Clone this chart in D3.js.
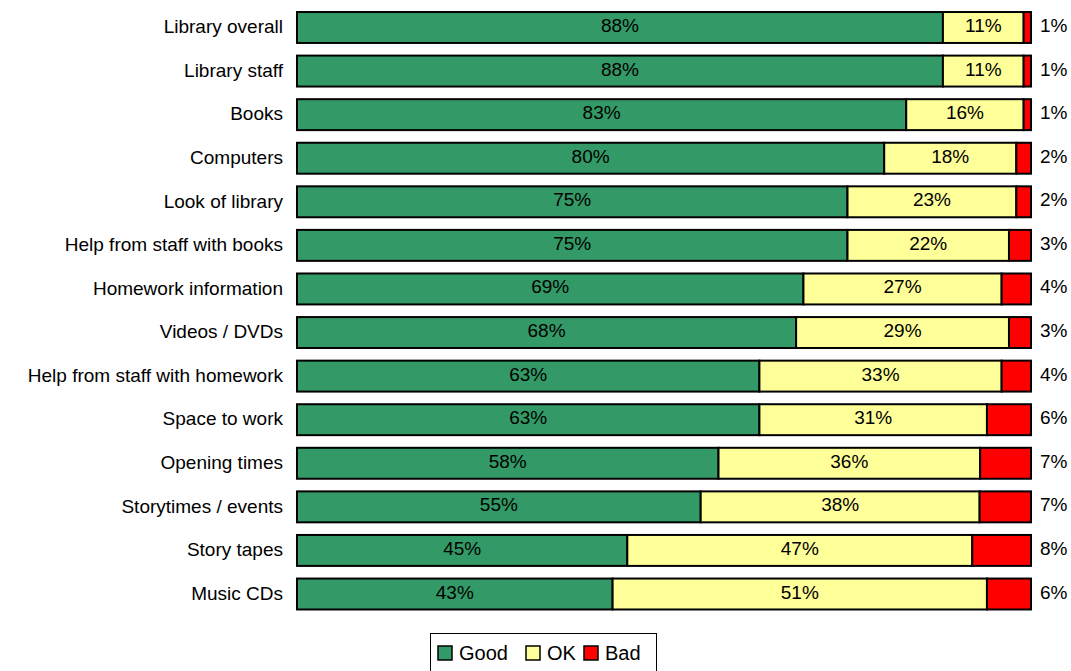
<!DOCTYPE html>
<html>
<head>
<meta charset="utf-8">
<script src="https://cdn.jsdelivr.net/npm/d3@7"></script>
<style>
  html, body { margin: 0; padding: 0; background: #fff; }
  svg { display: block; font-family: "Liberation Sans", Arial, sans-serif; }
</style>
</head>
<body>
<svg id="chart" width="1071" height="671"></svg>
<script>
// Survey responses: share of Good / OK / Bad ratings per library service
const categories = [
  "Library overall", "Library staff", "Books", "Computers", "Look of library",
  "Help from staff with books", "Homework information", "Videos / DVDs",
  "Help from staff with homework", "Space to work", "Opening times",
  "Storytimes / events", "Story tapes", "Music CDs"
];
const good = [88, 88, 83, 80, 75, 75, 69, 68, 63, 63, 58, 55, 45, 43];
const ok   = [11, 11, 16, 18, 23, 22, 27, 29, 33, 31, 36, 38, 47, 51];
const bad  = [ 1,  1,  1,  2,  2,  3,  4,  3,  4,  6,  7,  7,  8,  6];
const seriesNames = ["Good", "OK", "Bad"];
const colors = ["#339966", "#FFFF99", "#FF0000"];

const rows = categories.map((c, i) => ({ cat: c, Good: good[i], OK: ok[i], Bad: bad[i] }));

const svg = d3.select("#chart");
const plotLeft = 297, plotRight = 1031, plotTop = 5.7, plotBottom = 615.8;

const x = d3.scaleLinear().domain([0, 1]).range([plotLeft, plotRight]);
const y = d3.scaleBand().domain(categories).range([plotTop, plotBottom]).paddingInner(0.29).paddingOuter(0.145);

const stack = d3.stack().keys(seriesNames).offset(d3.stackOffsetExpand);
const stacked = stack(rows);

const g = svg.append("g");
stacked.forEach((s, si) => {
  const layer = g.append("g").attr("fill", colors[si]);
  layer.selectAll("rect").data(s).join("rect")
    .attr("x", d => x(d[0]))
    .attr("y", d => y(d.data.cat))
    .attr("width", d => x(d[1]) - x(d[0]))
    .attr("height", y.bandwidth())
    .attr("stroke", "#000")
    .attr("stroke-width", 2);
});

// value labels: Good and OK inside their segments, Bad to the right of the bar
stacked.forEach((s, si) => {
  const key = seriesNames[si];
  g.append("g").selectAll("text").data(s).join("text")
    .attr("x", d => si < 2 ? (x(d[0]) + x(d[1])) / 2 : plotRight + 9)
    .attr("y", d => y(d.data.cat) + y.bandwidth() / 2 + 4.5)
    .attr("text-anchor", si < 2 ? "middle" : "start")
    .attr("font-size", 19)
    .attr("fill", "#000")
    .text(d => d.data[key] + "%");
});

// category axis
const yAxis = d3.axisLeft(y).tickSize(0).tickPadding(14);
const ag = svg.append("g").attr("transform", `translate(${plotLeft},0)`).call(yAxis);
ag.select(".domain").remove();
ag.selectAll("text")
  .attr("font-size", 19)
  .attr("font-family", "'Liberation Sans', Arial, sans-serif")
  .attr("fill", "#000")
  .attr("dy", "0.3em");

// legend
const lg = svg.append("g");
lg.append("rect").attr("x", 430.5).attr("y", 633.5).attr("width", 226).attr("height", 45)
  .attr("fill", "#fff").attr("stroke", "#000").attr("stroke-width", 1);
const legendX = [438, 526, 584];
seriesNames.forEach((n, i) => {
  lg.append("rect").attr("x", legendX[i]).attr("y", 646).attr("width", 14).attr("height", 14)
    .attr("fill", colors[i]).attr("stroke", "#000").attr("stroke-width", 1.5);
  lg.append("text").attr("x", legendX[i] + 21).attr("y", 660)
    .attr("font-size", 20).text(n);
});
</script>
</body>
</html>
